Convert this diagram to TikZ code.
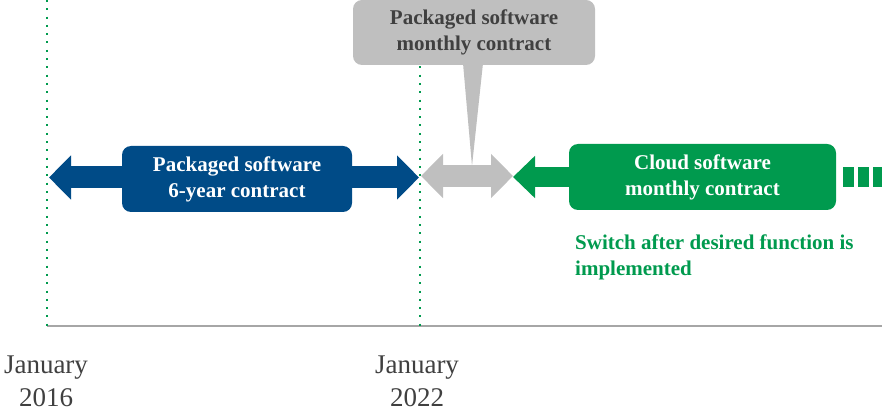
\documentclass[tikz,border=0pt]{standalone}
\usepackage{fontspec}
\setmainfont{Liberation Serif}
\usepackage{tikz}
\usetikzlibrary{arrows.meta,positioning,calc}
\definecolor{pkgblue}{RGB}{0,75,135}
\definecolor{cloudgreen}{RGB}{0,154,78}
\definecolor{monthgray}{RGB}{191,191,191}
\definecolor{textgray}{RGB}{64,64,64}
\definecolor{axisgray}{RGB}{166,166,166}
\tikzset{
  contractbox/.style = {rounded corners=9pt,inner sep=0pt,align=center,
                        font=\fontsize{21}{26}\selectfont\bfseries},
  bandarr/.style     = {line width=22pt,{Triangle[length=22pt,width=43pt]}-{Triangle[length=22pt,width=43pt]}},
  headarr/.style     = {line width=20pt,-{Triangle[length=22pt,width=41pt]}},
  yearline/.style    = {cloudgreen,line width=2pt,dash pattern=on 2pt off 6.3pt},
  datelabel/.style   = {align=center,inner sep=0pt,text=textgray,
                        font=\fontsize{27}{33}\selectfont}
}
\begin{document}
\begin{tikzpicture}[x=1pt,y=-1pt]
  \useasboundingbox (0,0) rectangle (882,411);
  % time axis
  \coordinate (ax0) at (47,326);
  \coordinate (ax1) at (882,326);
  \draw[axisgray,line width=2pt] (ax0) -- (ax1);
  \draw[yearline] (47,0) -- (ax0);
  \draw[yearline] (420,0) -- (420,326);
  \node[datelabel,anchor=north] (d2016) at (46,356) {January\\2016};
  \node[datelabel,anchor=north] (d2022) at (417,356) {January\\2022};

  % packaged software, 6 years
  \coordinate (tipA) at (49,177.5);
  \coordinate (tipB) at (419,177.5);
  \draw[bandarr,pkgblue] (tipA) -- (tipB);
  \node[contractbox,fill=pkgblue,text=white,minimum width=230pt,minimum height=66pt]
    (pkg) at (237,179) {Packaged software\\6-year contract};

  % packaged software, monthly
  \coordinate (tipC) at (421,176);
  \coordinate (tipD) at (513,176);
  \draw[bandarr,monthgray] (tipC) -- (tipD);
  \coordinate (callout) at (472,166);
  \node[contractbox,fill=monthgray,text=textgray,minimum width=242pt,minimum height=65pt]
    (month) at (474,32.5) {Packaged software\\monthly contract};
  \fill[monthgray] ($(month.south)+(-11,-2)$) -- (callout) -- ($(month.south)+(9,-2)$) -- cycle;

  % cloud software
  \node[contractbox,fill=cloudgreen,text=white,minimum width=267pt,minimum height=66pt]
    (cloud) at (702.5,177) {Cloud software\\monthly contract};
  \coordinate (tipE) at (513,177);
  \draw[headarr,cloudgreen] (cloud.west) -- (tipE);
  \foreach \i in {0,1,2}
    \fill[cloudgreen] (843+15*\i,167) rectangle ++(11,20);
  \node[anchor=north west,align=left,inner sep=0pt,text=cloudgreen,
        font=\fontsize{21}{26}\selectfont\bfseries]
    (switch) at (575,235) {Switch after desired function is\\implemented};
\end{tikzpicture}
\end{document}
